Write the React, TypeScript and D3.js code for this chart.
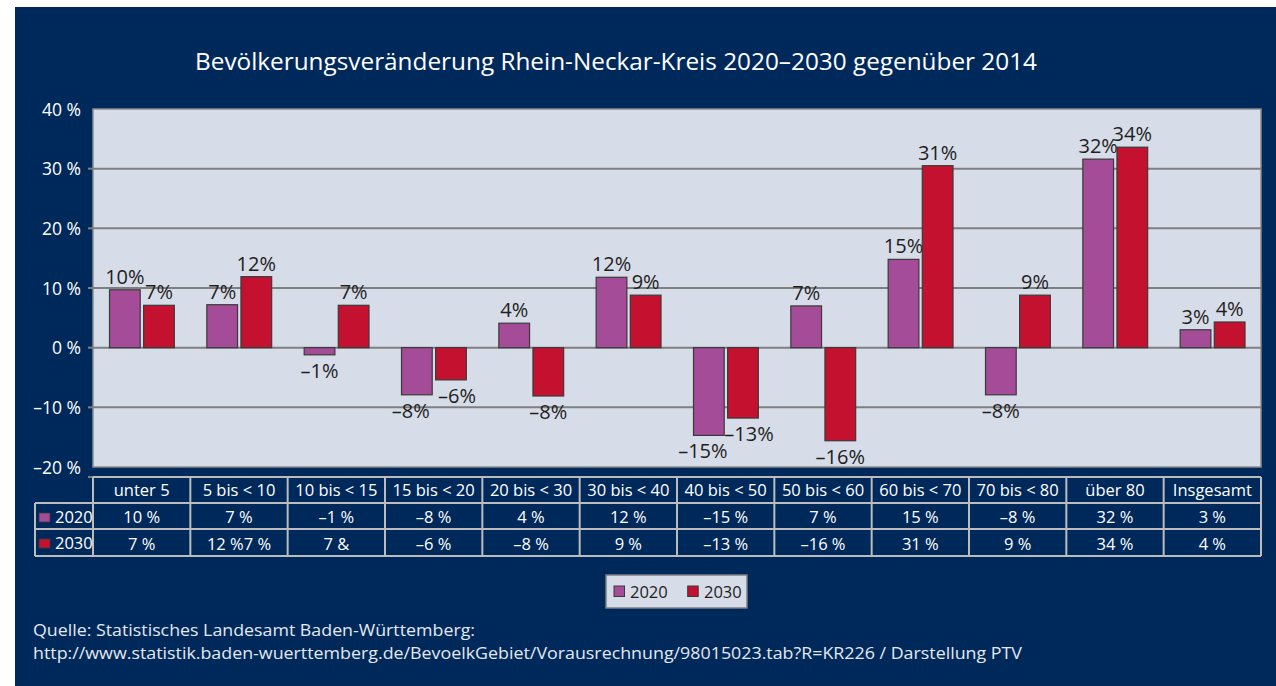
import React from "react";
import * as d3 from "d3";

const categories = ["unter 5", "5 bis < 10", "10 bis < 15", "15 bis < 20", "20 bis < 30", "30 bis < 40", "40 bis < 50", "50 bis < 60", "60 bis < 70", "70 bis < 80", "über 80", "Insgesamt"];
const seriesNames = ["2020", "2030"];
const values2020 = [9.7, 7.2, -1.2, -7.9, 4.1, 11.8, -14.7, 7.0, 14.8, -7.9, 31.6, 3.0];
const values2030 = [7.1, 11.9, 7.1, -5.4, -8.1, 8.8, -11.8, -15.6, 30.5, 8.8, 33.6, 4.3];
const labels2020 = ["10%", "7%", "–1%", "–8%", "4%", "12%", "–15%", "7%", "15%", "–8%", "32%", "3%"];
const labels2030 = ["7%", "12%", "7%", "–6%", "–8%", "9%", "–13%", "–16%", "31%", "9%", "34%", "4%"];
const table2020 = ["10 %", "7 %", "–1 %", "–8 %", "4 %", "12 %", "–15 %", "7 %", "15 %", "–8 %", "32 %", "3 %"];
const table2030 = ["7 %", "12 %7 %", "7 &", "–6 %", "–8 %", "9 %", "–13 %", "–16 %", "31 %", "9 %", "34 %", "4 %"];
const yTicks = [40, 30, 20, 10, 0, -10, -20];
const yTickLabels = ["40 %", "30 %", "20 %", "10 %", "0 %", "–10 %", "–20 %"];
const title = "Bevölkerungsveränderung Rhein-Neckar-Kreis 2020–2030 gegenüber 2014";
const source1 = "Quelle: Statistisches Landesamt Baden-Württemberg:";
const source2 = "http://www.statistik.baden-wuerttemberg.de/BevoelkGebiet/Vorausrechnung/98015023.tab?R=KR226 / Darstellung PTV";

const NAVY = "#00295b";
const PLOT_BG = "#d6dce8";
const PURPLE = "#a44c98";
const RED = "#c4112f";
const GRID = "#7f7f7f";
const TABLE_LINE = "#bcbcbc";
const FONT = "'Open Sans', 'Noto Sans', sans-serif";

export default function App() {
  const W = 1276, H = 686;
  const left = 93, right = 1261, top = 109, bottom = 467;
  const x0 = d3.scaleBand<string>().domain(categories).range([left, right]).paddingInner(0).paddingOuter(0);
  const bw = x0.bandwidth();
  const x1 = d3.scaleBand<string>().domain(seriesNames).range([16.5, bw - 16]).paddingInner(0.1);
  const y = d3.scaleLinear().domain([-20, 40]).range([bottom, top]);
  const colors = d3.scaleOrdinal<string, string>().domain(seriesNames).range([PURPLE, RED]);
  const series = [
    { name: "2020", values: values2020, labels: labels2020 },
    { name: "2030", values: values2030, labels: labels2030 },
  ];

  const tTop = 477, r1 = 503, r2 = 529, r3 = 556;
  const keyLeft = 35;

  return (
    <svg width={W} height={H} style={{ position: "absolute", left: 0, top: 0 }} fontFamily={FONT}>
      <rect x={0} y={0} width={W} height={H} fill="#ffffff" />
      <rect x={15} y={7} width={W - 15} height={H - 7} fill={NAVY} />
      <text x={616} y={70} textAnchor="middle" fill="#ffffff" fontSize={24} fontWeight={500} textLength={842} lengthAdjust="spacingAndGlyphs">{title}</text>

      {/* plot area */}
      <rect x={left} y={top} width={right - left} height={bottom - top} fill={PLOT_BG} stroke="#8c8c8c" strokeWidth={1.5} />
      {yTicks.filter(t => t > -20 && t < 40).map(t => (
        <g key={t}>
          <line x1={left} x2={right} y1={y(t)} y2={y(t)} stroke={GRID} strokeWidth={2} />
          <line x1={88} x2={left} y1={y(t)} y2={y(t)} stroke={GRID} strokeWidth={2} />
        </g>
      ))}
      <line x1={88} x2={left} y1={tTop} y2={tTop} stroke={GRID} strokeWidth={2} />
      {yTicks.map((t, i) => (
        <text key={t} x={81} y={y(t) + 6.5} textAnchor="end" fill="#ffffff" fontSize={17.5}>{yTickLabels[i]}</text>
      ))}

      {/* bars */}
      {series.map((s, si) => (
        <g key={s.name}>
          {categories.map((c, i) => {
            const v = s.values[i];
            const bx = (x0(c) as number) + (x1(s.name) as number);
            const w = x1.bandwidth();
            const y0 = y(0), yv = y(v);
            const bothNeg = values2020[i] < 0 && values2030[i] < 0;
            const dx = bothNeg ? (si === 0 ? -6 : 6) : 0;
            return (
              <g key={c}>
                <rect x={bx} y={Math.min(y0, yv)} width={w} height={Math.abs(yv - y0)} fill={colors(s.name)} stroke="#3a3a3a" strokeWidth={1.2} />
                <text x={bx + w / 2 + dx} y={v >= 0 ? yv - 6 : yv + 23} textAnchor="middle" fill="#1e1e1e" fontSize={20}>{s.labels[i]}</text>
              </g>
            );
          })}
        </g>
      ))}

      {/* data table */}
      <g stroke={TABLE_LINE} strokeWidth={2} fill="none">
        <line x1={left} x2={right} y1={tTop} y2={tTop} />
        <line x1={keyLeft} x2={right} y1={r1} y2={r1} />
        <line x1={keyLeft} x2={right} y1={r2} y2={r2} />
        <line x1={keyLeft} x2={right} y1={r3} y2={r3} />
        <line x1={keyLeft} x2={keyLeft} y1={r1} y2={r3} />
        {categories.map(c => (
          <line key={c} x1={x0(c) as number} x2={x0(c) as number} y1={tTop} y2={r3} />
        ))}
        <line x1={right} x2={right} y1={tTop} y2={r3} />
      </g>
      {categories.map((c, i) => {
        const cx = (x0(c) as number) + bw / 2;
        return (
          <g key={c} fill="#ffffff" fontSize={16.5} textAnchor="middle">
            <text x={cx} y={r1 - 7}>{c}</text>
            <text x={cx} y={r2 - 6}>{table2020[i]}</text>
            <text x={cx} y={r3 - 6}>{table2030[i]}</text>
          </g>
        );
      })}
      {series.map((s, i) => {
        const rowTop = i === 0 ? r1 : r2;
        return (
          <g key={s.name}>
            <rect x={39} y={rowTop + 10} width={11} height={9} fill={colors(s.name)} stroke="#3a3a3a" strokeWidth={0.8} />
            <text x={55} y={rowTop + 20} fill="#ffffff" fontSize={16.5}>{s.name}</text>
          </g>
        );
      })}

      {/* legend */}
      <rect x={606} y={575} width={141} height={33} fill={PLOT_BG} stroke="#7f7f7f" strokeWidth={1.5} />
      {series.map((s, i) => (
        <g key={s.name}>
          <rect x={614 + i * 73.7} y={586} width={10.5} height={10.5} fill={colors(s.name)} stroke="#3a3a3a" strokeWidth={1} />
          <text x={630 + i * 74} y={597.5} fill="#1e1e1e" fontSize={16.5}>{s.name}</text>
        </g>
      ))}

      {/* source */}
      <text x={33} y={636} fill="#e4e8f0" fontSize={16.5} textLength={442} lengthAdjust="spacingAndGlyphs">{source1}</text>
      <text x={33} y={659} fill="#e4e8f0" fontSize={16.5} textLength={989} lengthAdjust="spacingAndGlyphs">{source2}</text>
    </svg>
  );
}
